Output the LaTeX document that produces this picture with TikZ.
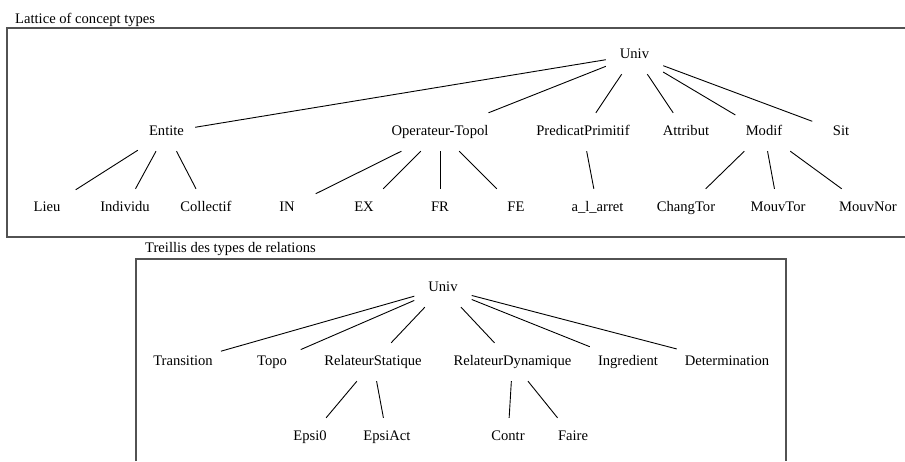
\documentclass[tikz,border=0pt]{standalone}
\usepackage{fontspec}
\setmainfont{Liberation Serif}
\begin{document}
\begin{tikzpicture}[x=1pt,y=-1pt,
  lbl/.style={rectangle,inner xsep=8pt,inner ysep=0pt,minimum width=57pt,minimum height=38pt,
    text height=10pt,text depth=3pt,
    font=\fontsize{14.6}{17}\selectfont},
  ttl/.style={anchor=base west,inner sep=0pt,font=\fontsize{14.6}{17}\selectfont},
  edge/.style={draw=black,line width=0.9pt},
  frame/.style={draw=black!68,line width=1.4pt}]
\useasboundingbox (0,0) rectangle (905,461);
% frames
\draw[frame] (905,28) -- (7,28) -- (7,237) -- (905,237);
\draw[frame] (136,461) -- (136,259) -- (786,259) -- (786,461);
\node[ttl] (t1) at (15,23.5) {Lattice of concept types};
\node[ttl] (t2) at (145,252.5) {Treillis des types de relations};
% top tree
\node[lbl] (u) at (634.5,55) {Univ};
\node[lbl] (ent) at (166.5,132) {Entite};
\node[lbl] (op) at (440,132) {Operateur-Topol};
\node[lbl] (pp) at (583,132) {PredicatPrimitif};
\node[lbl] (att) at (686,132) {Attribut};
\node[lbl] (mod) at (764,132) {Modif};
\node[lbl] (sit) at (841,132) {Sit};
\node[lbl] (lieu) at (47,208) {Lieu};
\node[lbl] (ind) at (125,208) {Individu};
\node[lbl] (col) at (206,208) {Collectif};
\node[lbl] (in) at (287,208) {IN};
\node[lbl] (ex) at (364,208) {EX};
\node[lbl] (fr) at (440,208) {FR};
\node[lbl] (fe) at (516,208) {FE};
\node[lbl] (arr) at (597.5,208) {a\_l\_arret};
\node[lbl] (ct) at (686,208) {ChangTor};
\node[lbl] (mt) at (778,208) {MouvTor};
\node[lbl] (mn) at (868,208) {MouvNor};
\foreach \c in {ent,op,pp,att,mod,sit} \draw[edge] (u) -- (\c);
\foreach \c in {lieu,ind,col} \draw[edge] (ent) -- (\c);
\foreach \c in {in,ex,fr,fe} \draw[edge] (op) -- (\c);
\draw[edge] (pp) -- (arr);
\foreach \c in {ct,mt,mn} \draw[edge] (mod) -- (\c);
% bottom tree
\node[lbl] (u2) at (443,288) {Univ};
\node[lbl] (tr) at (183,362) {Transition};
\node[lbl] (topo) at (272,362) {Topo};
\node[lbl] (rs) at (373,362) {RelateurStatique};
\node[lbl] (rd) at (512.5,362) {RelateurDynamique};
\node[lbl] (ing) at (628,362) {Ingredient};
\node[lbl] (det) at (727,362) {Determination};
\node[lbl] (e0) at (310,437) {Epsi0};
\node[lbl] (ea) at (387,437) {EpsiAct};
\node[lbl] (con) at (508,437) {Contr};
\node[lbl] (fai) at (573,437) {Faire};
\foreach \c in {tr,topo,rs,rd,ing,det} \draw[edge] (u2) -- (\c);
\draw[edge] (rs) -- (e0);
\draw[edge] (rs) -- (ea);
\draw[edge] (rd) -- (con);
\draw[edge] (rd) -- (fai);
\end{tikzpicture}
\end{document}
